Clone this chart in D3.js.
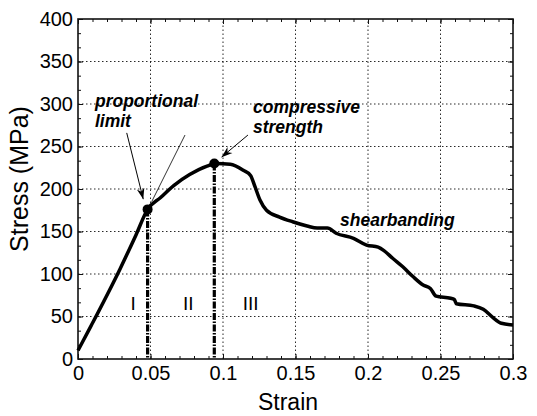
<!DOCTYPE html>
<html>
<head>
<meta charset="utf-8">
<script src="https://cdn.jsdelivr.net/npm/d3@7"></script>
<style>
  body { margin: 0; background: #fff; }
  text { font-family: "Liberation Sans", Arial, sans-serif; fill: #000; }
</style>
</head>
<body>
<script>
// stress-strain curve
var strain = [0, 0.009, 0.029, 0.040, 0.048, 0.057, 0.066, 0.077, 0.089, 0.095,
    0.105, 0.114, 0.119, 0.122, 0.1255, 0.130, 0.139, 0.148, 0.158, 0.165,
    0.172, 0.178, 0.190, 0.199, 0.207, 0.211, 0.217, 0.224, 0.231, 0.238,
    0.243, 0.247, 0.257, 0.2595, 0.261, 0.273, 0.2795, 0.286, 0.292, 0.3];
var stress = [10, 39, 106, 146, 176, 190, 204, 217, 227, 230,
    229, 222, 216, 203, 187, 175, 167, 161.5, 156.5, 154,
    154, 148, 142, 134, 131.5, 127.5, 118.5, 108.5, 97, 87,
    83, 74, 71.5, 70, 65, 62.5, 58.5, 49, 42, 40];

// marked points: proportional limit and compressive strength
var markStrain = [0.048, 0.094];
var markStress = [176, 230];

var xTicks = [0, 0.05, 0.1, 0.15, 0.2, 0.25, 0.3];
var yTicks = [0, 50, 100, 150, 200, 250, 300, 350, 400];

var regionNames = ["I", "II", "III"];
var regionStrain = [0.038, 0.076, 0.119];

var width = 537;
var height = 416;
var margin = {top: 19, right: 24, bottom: 57, left: 78};

var svg = d3.select("body")
    .append("svg")
    .attr("width", width)
    .attr("height", height);

var x = d3.scaleLinear()
    .domain([0, 0.3])
    .range([margin.left, width - margin.right]);

var y = d3.scaleLinear()
    .domain([0, 400])
    .range([height - margin.bottom, margin.top]);

svg.append("defs").append("marker")
    .attr("id", "arrow")
    .attr("viewBox", "0 0 10 10")
    .attr("refX", 10)
    .attr("refY", 5)
    .attr("markerWidth", 11)
    .attr("markerHeight", 11)
    .attr("markerUnits", "userSpaceOnUse")
    .attr("orient", "auto")
  .append("path")
    .attr("d", "M0,1.5 L10,5 L0,8.5 L3,5 Z")
    .attr("fill", "#000");

// dotted grid
var grid = svg.append("g").attr("class", "grid");

grid.selectAll("line.gx")
    .data(xTicks.slice(1, -1))
    .enter().append("line")
    .attr("class", "gx")
    .attr("x1", function(d) { return x(d); })
    .attr("x2", function(d) { return x(d); })
    .attr("y1", y(0))
    .attr("y2", y(400))
    .attr("stroke", "#111")
    .attr("stroke-width", 0.9)
    .attr("stroke-dasharray", "1.5,2.5");

grid.selectAll("line.gy")
    .data(yTicks.slice(1, -1))
    .enter().append("line")
    .attr("class", "gy")
    .attr("x1", x(0))
    .attr("x2", x(0.3))
    .attr("y1", function(d) { return y(d); })
    .attr("y2", function(d) { return y(d); })
    .attr("stroke", "#111")
    .attr("stroke-width", 0.9)
    .attr("stroke-dasharray", "1.5,2.5");

// axes, ticks pointing inward
var xMinor = d3.range(0, 0.3001, 0.01);
var yMinor = d3.range(0, 400.01, 50 / 3);

function noLabel() { return ""; }

svg.append("g")
    .attr("transform", "translate(0," + y(0) + ")")
    .call(d3.axisBottom(x).tickValues(xMinor).tickSize(-3).tickFormat(noLabel));
svg.append("g")
    .attr("transform", "translate(0," + y(400) + ")")
    .call(d3.axisTop(x).tickValues(xMinor).tickSize(-3).tickFormat(noLabel));
svg.append("g")
    .attr("transform", "translate(" + x(0) + ",0)")
    .call(d3.axisLeft(y).tickValues(yMinor).tickSize(-3).tickFormat(noLabel));
svg.append("g")
    .attr("transform", "translate(" + x(0.3) + ",0)")
    .call(d3.axisRight(y).tickValues(yMinor).tickSize(-3).tickFormat(noLabel));

svg.append("g")
    .attr("class", "x axis")
    .attr("transform", "translate(0," + y(0) + ")")
    .call(d3.axisBottom(x)
        .tickValues(xTicks)
        .tickSize(-5)
        .tickPadding(7)
        .tickFormat(function(d) { return String(d); }));
svg.append("g")
    .attr("transform", "translate(0," + y(400) + ")")
    .call(d3.axisTop(x).tickValues(xTicks).tickSize(-5).tickFormat(noLabel));

svg.append("g")
    .attr("class", "y axis")
    .attr("transform", "translate(" + x(0) + ",0)")
    .call(d3.axisLeft(y)
        .tickValues(yTicks)
        .tickSize(-5)
        .tickPadding(5));
svg.append("g")
    .attr("transform", "translate(" + x(0.3) + ",0)")
    .call(d3.axisRight(y).tickValues(yTicks).tickSize(-5).tickFormat(noLabel));

svg.selectAll(".domain").remove();
svg.selectAll(".tick line").attr("stroke", "#111").attr("stroke-width", 1);
svg.selectAll(".axis text")
    .attr("font-family", "'Liberation Sans', Arial, sans-serif")
    .attr("font-size", 20);

// frame
svg.append("rect")
    .attr("x", x(0))
    .attr("y", y(400))
    .attr("width", x(0.3) - x(0))
    .attr("height", y(0) - y(400))
    .attr("fill", "none")
    .attr("stroke", "#111")
    .attr("stroke-width", 1.6);

// region boundaries
svg.selectAll("line.bound")
    .data(markStrain)
    .enter().append("line")
    .attr("class", "bound")
    .attr("x1", function(d) { return x(d); })
    .attr("x2", function(d) { return x(d); })
    .attr("y1", function(d, i) { return y(markStress[i]); })
    .attr("y2", y(0))
    .attr("stroke", "#000")
    .attr("stroke-width", 3.2)
    .attr("stroke-dasharray", "7,1.5,1.5,1.5");

// curve
var line = d3.line()
    .x(function(d, i) { return x(strain[i]); })
    .y(function(d, i) { return y(stress[i]); })
    .curve(d3.curveMonotoneX);

svg.append("path")
    .datum(strain)
    .attr("d", line)
    .attr("fill", "none")
    .attr("stroke", "#000")
    .attr("stroke-width", 3.5)
    .attr("stroke-linejoin", "round");

svg.selectAll("circle.mark")
    .data(markStrain)
    .enter().append("circle")
    .attr("class", "mark")
    .attr("cx", function(d) { return x(d); })
    .attr("cy", function(d, i) { return y(markStress[i]); })
    .attr("r", 5)
    .attr("fill", "#000");

// region labels
svg.selectAll("text.region")
    .data(regionNames)
    .enter().append("text")
    .attr("class", "region")
    .attr("x", function(d, i) { return x(regionStrain[i]); })
    .attr("y", y(58))
    .attr("text-anchor", "middle")
    .attr("font-size", 19)
    .text(function(d) { return d; });

// annotations
function note(lines, sx, sy) {
    var t = svg.append("text")
        .attr("x", x(sx))
        .attr("y", y(sy))
        .attr("font-size", 17.5)
        .attr("font-weight", "bold")
        .attr("font-style", "italic");
    lines.forEach(function(s, i) {
        t.append("tspan")
            .attr("x", x(sx))
            .attr("dy", i === 0 ? 0 : 20)
            .text(s);
    });
}

note(["proportional", "limit"], 0.0117, 296);
note(["compressive", "strength"], 0.1207, 289);
note(["shearbanding"], 0.1807, 157);

svg.append("line")
    .attr("x1", x(0.0336)).attr("y1", y(266))
    .attr("x2", x(0.0450)).attr("y2", y(188))
    .attr("stroke", "#000")
    .attr("stroke-width", 1)
    .attr("marker-end", "url(#arrow)");

svg.append("line")
    .attr("x1", x(0.0738)).attr("y1", y(263.5))
    .attr("x2", x(0.0508)).attr("y2", y(185))
    .attr("stroke", "#000")
    .attr("stroke-width", 0.8);

svg.append("line")
    .attr("x1", x(0.1172)).attr("y1", y(263.5))
    .attr("x2", x(0.0990)).attr("y2", y(237.5))
    .attr("stroke", "#000")
    .attr("stroke-width", 1)
    .attr("marker-end", "url(#arrow)");

// axis titles
svg.append("text")
    .attr("x", 288)
    .attr("y", 410)
    .attr("text-anchor", "middle")
    .attr("font-size", 23)
    .text("Strain");

svg.append("text")
    .attr("transform", "translate(28," + 179 + ") rotate(-90)")
    .attr("text-anchor", "middle")
    .attr("font-size", 25)
    .text("Stress (MPa)");
</script>
</body>
</html>
